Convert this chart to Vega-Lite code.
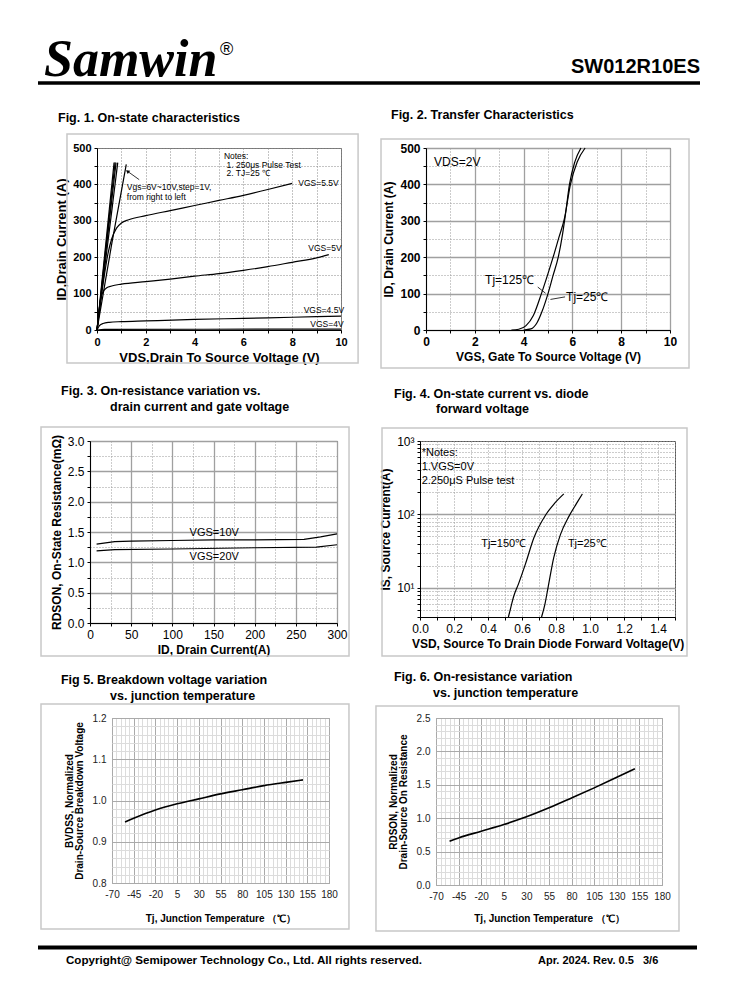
{
  "$schema": "https://vega.github.io/schema/vega-lite/v6.json",
  "padding": 0,
  "background": "white",
  "spacing": 0,
  "config": {
    "font": "Liberation Sans",
    "view": {"stroke": "#777"},
    "axis": {"labelFont": "Liberation Sans", "titleFont": "Liberation Sans", "labelColor": "#000", "titleColor": "#000", "labelFontSize": 11, "titleFontSize": 12, "titleFontWeight": "bold", "domainColor": "#000", "tickColor": "#000", "tickSize": 3, "labelFlush": false, "labelOverlap": false, "gridColor": "#999", "labelPadding": 3},
    "text": {"font": "Liberation Sans", "color": "#000"}
  },
  "vconcat": [
    {
      "width": 738, "height": 100, "view": {"stroke": null},
      "encoding": {
        "x": {"field": "x", "type": "quantitative", "scale": {"domain": [0, 738], "nice": false, "zero": false}, "axis": null},
        "y": {"field": "y", "type": "quantitative", "scale": {"domain": [0, 100], "nice": false, "reverse": true}, "axis": null}
      },
      "layer": [
        {"data": {"values": [{"x": 38, "x2": 700, "y": 83}]}, "mark": {"type": "rule", "strokeWidth": 3.5, "color": "#000"}, "encoding": {"x2": {"field": "x2"}}},
        {"data": {"values": [{"x": 44, "y": 76, "t": "Samwin"}]}, "mark": {"type": "text", "font": "Liberation Serif", "fontSize": 52, "fontWeight": "bold", "fontStyle": "italic", "align": "left", "baseline": "alphabetic"}, "encoding": {"text": {"field": "t"}}},
        {"data": {"values": [{"x": 220, "y": 55, "t": "®"}]}, "mark": {"type": "text", "fontSize": 18, "align": "left", "baseline": "alphabetic"}, "encoding": {"text": {"field": "t"}}},
        {"data": {"values": [{"x": 700, "y": 73, "t": "SW012R10ES"}]}, "mark": {"type": "text", "fontSize": 20, "fontWeight": "bold", "align": "right", "baseline": "alphabetic"}, "encoding": {"text": {"field": "t"}}}
      ]
    },
    {
      "spacing": 0,
      "hconcat": [
        {"width": 1, "height": 1, "data": {"values": []}, "mark": "point", "view": {"stroke": null}},
        {
          "width": 244, "height": 182,
          "encoding": {
            "x": {"field": "x", "type": "quantitative", "scale": {"domain": [0, 10], "nice": false}, "axis": {"values": [0,1,2,3,4,5,6,7,8,9,10], "labelExpr": "datum.value % 2 === 0 ? datum.label : ''", "title": "VDS,Drain To Source Voltage (V)", "titleFontSize": 13, "gridDash": [1, 2], "gridColor": "#888", "labelFontWeight": "bold", "labelFontSize": 11}},
            "y": {"field": "y", "type": "quantitative", "scale": {"domain": [0, 500], "nice": false}, "axis": {"values": [0,50,100,150,200,250,300,350,400,450,500], "labelExpr": "datum.value % 100 === 0 ? datum.label : ''", "title": "ID,Drain Current (A)", "titleFontSize": 13, "gridDash": [1, 2], "gridColor": "#888", "labelFontWeight": "bold", "labelFontSize": 11}}
          },
          "layer": [
            {"data": {"values": [{"x": -3.877, "x2": 11.09, "y": -122.5, "y2": 628.0}]}, "mark": {"type": "rect", "opacity": 0}, "encoding": {"x2": {"field": "x2"}, "y2": {"field": "y2"}}},
            {"data": {"values": [{"x": -1.23, "x2": 10.7, "y": -90.7, "y2": 538.5}]}, "mark": {"type": "rect", "fillOpacity": 0, "stroke": "#c8c8c8", "strokeWidth": 1.5}, "encoding": {"x2": {"field": "x2"}, "y2": {"field": "y2"}}},
            {
              "data": {"values": [
                {"g": "10V", "x": 0, "y": 0}, {"g": "10V", "x": 0.70, "y": 460},
                {"g": "9V", "x": 0, "y": 0}, {"g": "9V", "x": 0.74, "y": 460},
                {"g": "8V", "x": 0, "y": 0}, {"g": "8V", "x": 0.78, "y": 460},
                {"g": "7V", "x": 0, "y": 0}, {"g": "7V", "x": 0.85, "y": 460},
                {"g": "6V", "x": 0, "y": 0}, {"g": "6V", "x": 0.6, "y": 235}, {"g": "6V", "x": 1.2, "y": 455},
                {"g": "5.5V", "x": 0, "y": 0}, {"g": "5.5V", "x": 0.15, "y": 80}, {"g": "5.5V", "x": 0.3, "y": 150}, {"g": "5.5V", "x": 0.45, "y": 210}, {"g": "5.5V", "x": 0.6, "y": 250}, {"g": "5.5V", "x": 0.8, "y": 280}, {"g": "5.5V", "x": 1, "y": 294}, {"g": "5.5V", "x": 1.3, "y": 303}, {"g": "5.5V", "x": 2, "y": 314}, {"g": "5.5V", "x": 3, "y": 328}, {"g": "5.5V", "x": 4, "y": 342}, {"g": "5.5V", "x": 5, "y": 356}, {"g": "5.5V", "x": 6, "y": 370}, {"g": "5.5V", "x": 7, "y": 386}, {"g": "5.5V", "x": 8, "y": 403},
                {"g": "5V", "x": 0, "y": 0}, {"g": "5V", "x": 0.08, "y": 50}, {"g": "5V", "x": 0.15, "y": 85}, {"g": "5V", "x": 0.25, "y": 105}, {"g": "5V", "x": 0.4, "y": 116}, {"g": "5V", "x": 0.6, "y": 121}, {"g": "5V", "x": 1, "y": 126}, {"g": "5V", "x": 2, "y": 133}, {"g": "5V", "x": 3, "y": 140}, {"g": "5V", "x": 4, "y": 148}, {"g": "5V", "x": 5, "y": 155}, {"g": "5V", "x": 6, "y": 164}, {"g": "5V", "x": 7, "y": 174}, {"g": "5V", "x": 8, "y": 186}, {"g": "5V", "x": 9, "y": 198}, {"g": "5V", "x": 9.5, "y": 207},
                {"g": "4.5V", "x": 0, "y": 0}, {"g": "4.5V", "x": 0.1, "y": 12}, {"g": "4.5V", "x": 0.25, "y": 18}, {"g": "4.5V", "x": 0.5, "y": 21}, {"g": "4.5V", "x": 1, "y": 23}, {"g": "4.5V", "x": 2, "y": 25}, {"g": "4.5V", "x": 4, "y": 29}, {"g": "4.5V", "x": 6, "y": 32}, {"g": "4.5V", "x": 8, "y": 35}, {"g": "4.5V", "x": 10, "y": 38},
                {"g": "4V", "x": 0, "y": 0}, {"g": "4V", "x": 0.3, "y": 1.5}, {"g": "4V", "x": 10, "y": 2.5}
              ]},
              "mark": {"type": "line", "color": "#000", "strokeWidth": 1.2, "interpolate": "monotone"},
              "encoding": {"detail": {"field": "g"}}
            },
            {
              "data": {"values": [
                {"x": 5.2, "y": 478, "t": "Notes:"},
                {"x": 5.31, "y": 454, "t": "1. 250μs  Pulse Test"},
                {"x": 5.31, "y": 431, "t": "2. TJ=25 ℃"},
                {"x": 1.22, "y": 394, "t": "Vgs=6V~10V,step=1V,"},
                {"x": 1.22, "y": 365, "t": "from right to left"},
                {"x": 8.25, "y": 403, "t": "VGS=5.5V"},
                {"x": 8.66, "y": 225, "t": "VGS=5V"},
                {"x": 8.47, "y": 55, "t": "VGS=4.5V"},
                {"x": 8.74, "y": 16, "t": "VGS=4V"}
              ]},
              "mark": {"type": "text", "fontSize": 8.5, "align": "left", "baseline": "middle"},
              "encoding": {"text": {"field": "t"}}
            },
            {"data": {"values": [{"x": 1.73, "y": 413, "x2": 1.25, "y2": 436}]}, "mark": {"type": "rule", "color": "#000", "strokeWidth": 0.8}, "encoding": {"x2": {"field": "x2"}, "y2": {"field": "y2"}}},
            {"data": {"values": [{"x": 1.25, "y": 436}]}, "mark": {"type": "point", "shape": "triangle-up", "filled": true, "color": "#000", "size": 18, "angle": 306, "opacity": 1}},
            {"data": {"values": [{"x": -1.598, "y": 571.4, "t": "Fig. 1. On-state characteristics"}]}, "mark": {"type": "text", "fontSize": 12.5, "fontWeight": "bold", "align": "left", "baseline": "alphabetic"}, "encoding": {"text": {"field": "t"}}}
          ]
        },
        {
          "width": 244, "height": 182,
          "view": {"stroke": "#555"},
          "encoding": {
            "x": {"field": "x", "type": "quantitative", "scale": {"domain": [0, 10], "nice": false}, "axis": {"values": [0,1,2,3,4,5,6,7,8,9,10], "labelExpr": "datum.value % 2 === 0 ? datum.label : ''", "title": "VGS, Gate To Source Voltage (V)", "titleFontSize": 12, "gridDash": {"condition": {"test": "datum.value % 2 === 0", "value": []}, "value": [1, 2]}, "gridColor": {"condition": {"test": "datum.value % 2 === 0", "value": "#a0a0a0"}, "value": "#999"}, "gridWidth": {"condition": {"test": "datum.value % 2 === 0", "value": 1.3}, "value": 1}, "labelFontWeight": "bold", "labelFontSize": 12}},
            "y": {"field": "y", "type": "quantitative", "scale": {"domain": [0, 500], "nice": false}, "axis": {"values": [0,50,100,150,200,250,300,350,400,450,500], "labelExpr": "datum.value % 100 === 0 ? datum.label : ''", "title": "ID, Drain Current (A)", "titleFontSize": 12, "gridDash": {"condition": {"test": "datum.value % 100 === 0", "value": []}, "value": [1, 2]}, "gridColor": {"condition": {"test": "datum.value % 100 === 0", "value": "#a0a0a0"}, "value": "#999"}, "gridWidth": {"condition": {"test": "datum.value % 100 === 0", "value": 1.3}, "value": 1}, "labelFontWeight": "bold", "labelFontSize": 12}}
          },
          "layer": [
            {"data": {"values": [{"x": -2.279, "x2": 12.73, "y": -122.5, "y2": 628.0}]}, "mark": {"type": "rect", "opacity": 0}, "encoding": {"x2": {"field": "x2"}, "y2": {"field": "y2"}}},
            {"data": {"values": [{"x": -1.844, "x2": 10.779, "y": -104.4, "y2": 524.7}]}, "mark": {"type": "rect", "fillOpacity": 0, "stroke": "#c8c8c8", "strokeWidth": 1.5}, "encoding": {"x2": {"field": "x2"}, "y2": {"field": "y2"}}},
            {
              "data": {"values": [
                {"g": "125", "x": 3.5, "y": 0}, {"g": "125", "x": 3.8, "y": 2}, {"g": "125", "x": 4.1, "y": 12}, {"g": "125", "x": 4.4, "y": 40}, {"g": "125", "x": 4.73, "y": 100}, {"g": "125", "x": 5.0, "y": 155}, {"g": "125", "x": 5.21, "y": 200}, {"g": "125", "x": 5.45, "y": 255}, {"g": "125", "x": 5.67, "y": 305}, {"g": "125", "x": 5.92, "y": 400}, {"g": "125", "x": 6.2, "y": 462}, {"g": "125", "x": 6.52, "y": 500},
                {"g": "25", "x": 4.0, "y": 0}, {"g": "25", "x": 4.3, "y": 3}, {"g": "25", "x": 4.55, "y": 20}, {"g": "25", "x": 4.75, "y": 50}, {"g": "25", "x": 5.0, "y": 100}, {"g": "25", "x": 5.2, "y": 148}, {"g": "25", "x": 5.42, "y": 200}, {"g": "25", "x": 5.6, "y": 265}, {"g": "25", "x": 5.72, "y": 320}, {"g": "25", "x": 5.88, "y": 400}, {"g": "25", "x": 6.1, "y": 462}, {"g": "25", "x": 6.35, "y": 500}
              ]},
              "mark": {"type": "line", "color": "#000", "strokeWidth": 1.2, "interpolate": "monotone"},
              "encoding": {"detail": {"field": "g"}}
            },
            {"data": {"values": [{"x": 0.33, "y": 461, "t": "VDS=2V"}, {"x": 5.74, "y": 91, "t": "Tj=25℃"}]}, "mark": {"type": "text", "fontSize": 12, "align": "left", "baseline": "middle"}, "encoding": {"text": {"field": "t"}}},
            {"data": {"values": [{"x": 4.43, "y": 137, "t": "Tj=125℃"}]}, "mark": {"type": "text", "fontSize": 12, "align": "right", "baseline": "middle"}, "encoding": {"text": {"field": "t"}}},
            {"data": {"values": [{"x": 4.58, "y": 118, "x2": 4.9, "y2": 101}, {"x": 5.7, "y": 91, "x2": 5.1, "y2": 84}]}, "mark": {"type": "rule", "color": "#000", "strokeWidth": 0.8}, "encoding": {"x2": {"field": "x2"}, "y2": {"field": "y2"}}},
            {"data": {"values": [{"x": -1.434, "y": 579.7, "t": "Fig. 2. Transfer Characteristics"}]}, "mark": {"type": "text", "fontSize": 12.5, "fontWeight": "bold", "align": "left", "baseline": "alphabetic"}, "encoding": {"text": {"field": "t"}}}
          ]
        }
      ]
    },
    {
      "spacing": 0,
      "hconcat": [
        {"width": 1, "height": 1, "data": {"values": []}, "mark": "point", "view": {"stroke": null}},
        {
          "width": 247, "height": 182,
          "view": {"stroke": "#555"},
          "encoding": {
            "x": {"field": "x", "type": "quantitative", "scale": {"domain": [0, 300], "nice": false}, "axis": {"values": [0,25,50,75,100,125,150,175,200,225,250,275,300], "labelExpr": "datum.value % 50 === 0 ? datum.label : ''", "title": "ID, Drain Current(A)", "gridDash": {"condition": {"test": "datum.value % 50 === 0", "value": []}, "value": [1, 2]}, "gridColor": {"condition": {"test": "datum.value % 50 === 0", "value": "#a0a0a0"}, "value": "#999"}, "gridWidth": {"condition": {"test": "datum.value % 50 === 0", "value": 1.3}, "value": 1}, "labelFontSize": 12}},
            "y": {"field": "y", "type": "quantitative", "scale": {"domain": [0, 3], "nice": false}, "axis": {"values": [0,0.25,0.5,0.75,1,1.25,1.5,1.75,2,2.25,2.5,2.75,3], "format": ".1f", "labelExpr": "round(datum.value*4) % 2 === 0 ? datum.label : ''", "title": "RDSON, On-State Resistance(mΩ)", "gridDash": {"condition": {"test": "round(datum.value*4) % 2 === 0", "value": []}, "value": [1, 2]}, "gridColor": {"condition": {"test": "round(datum.value*4) % 2 === 0", "value": "#a0a0a0"}, "value": "#999"}, "gridWidth": {"condition": {"test": "round(datum.value*4) % 2 === 0", "value": 1.3}, "value": 1}, "labelFontSize": 12}}
          },
          "layer": [
            {"data": {"values": [{"x": -106.4, "x2": 337.17, "y": -0.6363, "y2": 4.0483}]}, "mark": {"type": "rect", "opacity": 0}, "encoding": {"x2": {"field": "x2"}, "y2": {"field": "y2"}}},
            {"data": {"values": [{"x": -59.5, "x2": 314.6, "y": -0.544, "y2": 3.231}]}, "mark": {"type": "rect", "fillOpacity": 0, "stroke": "#c8c8c8", "strokeWidth": 1.5}, "encoding": {"x2": {"field": "x2"}, "y2": {"field": "y2"}}},
            {
              "data": {"values": [
                {"g": "10V", "x": 8, "y": 1.30}, {"g": "10V", "x": 30, "y": 1.34}, {"g": "10V", "x": 50, "y": 1.35}, {"g": "10V", "x": 100, "y": 1.36}, {"g": "10V", "x": 150, "y": 1.37}, {"g": "10V", "x": 200, "y": 1.37}, {"g": "10V", "x": 260, "y": 1.38}, {"g": "10V", "x": 280, "y": 1.42}, {"g": "10V", "x": 300, "y": 1.47},
                {"g": "20V", "x": 8, "y": 1.19}, {"g": "20V", "x": 30, "y": 1.21}, {"g": "20V", "x": 100, "y": 1.22}, {"g": "20V", "x": 200, "y": 1.24}, {"g": "20V", "x": 275, "y": 1.25}, {"g": "20V", "x": 300, "y": 1.29}
              ]},
              "mark": {"type": "line", "color": "#000", "strokeWidth": 1.2},
              "encoding": {"detail": {"field": "g"}}
            },
            {"data": {"values": [{"x": 121, "y": 1.49, "t": "VGS=10V"}, {"x": 121, "y": 1.08, "t": "VGS=20V"}]}, "mark": {"type": "text", "fontSize": 11, "align": "left", "baseline": "middle"}, "encoding": {"text": {"field": "t"}}},
            {"data": {"values": [{"x": -35.2, "y": 3.758, "t": "Fig. 3. On-resistance variation vs."}, {"x": 24.3, "y": 3.495, "t": "drain current and gate voltage"}]}, "mark": {"type": "text", "fontSize": 12.5, "fontWeight": "bold", "align": "left", "baseline": "alphabetic"}, "encoding": {"text": {"field": "t"}}}
          ]
        },
        {
          "width": 255, "height": 176,
          "view": {"stroke": "#555"},
          "encoding": {
            "x": {"field": "x", "type": "quantitative", "scale": {"domain": [0, 1.5], "nice": false}, "axis": {"values": [0,0.1,0.2,0.3,0.4,0.5,0.6,0.7,0.8,0.9,1,1.1,1.2,1.3,1.4,1.5], "format": ".1f", "labelExpr": "round(datum.value*10) % 2 === 0 ? datum.label : ''", "title": "VSD, Source To Drain Diode Forward Voltage(V)", "gridDash": [1, 2], "gridColor": "#999", "labelFontSize": 12}},
            "y": {"field": "y", "type": "quantitative", "scale": {"type": "log", "domain": [4, 1000], "nice": false}, "axis": {"values": [4,5,6,7,8,9,10,20,30,40,50,60,70,80,90,100,200,300,400,500,600,700,800,900,1000], "labelExpr": "datum.value == 10 ? '10¹' : datum.value == 100 ? '10²' : datum.value == 1000 ? '10³' : ''", "title": "IS, Source Current(A)", "gridDash": {"condition": {"test": "datum.value == 10 || datum.value == 100", "value": []}, "value": [1, 2]}, "gridColor": {"condition": {"test": "datum.value == 10 || datum.value == 100", "value": "#a0a0a0"}, "value": "#999"}, "gridWidth": {"condition": {"test": "datum.value == 10 || datum.value == 100", "value": 1.3}, "value": 1}, "labelFontSize": 12}}
          },
          "layer": [
            {"data": {"values": [{"x": -0.2918, "x2": 1.8624, "y": 0.9872, "y2": 7355}]}, "mark": {"type": "rect", "opacity": 0}, "encoding": {"x2": {"field": "x2"}, "y2": {"field": "y2"}}},
            {"data": {"values": [{"x": -0.2235, "x2": 1.5706, "y": 1.177, "y2": 1503}]}, "mark": {"type": "rect", "fillOpacity": 0, "stroke": "#c8c8c8", "strokeWidth": 1.5}, "encoding": {"x2": {"field": "x2"}, "y2": {"field": "y2"}}},
            {
              "data": {"values": [
                {"g": "150", "x": 0.52, "y": 4}, {"g": "150", "x": 0.535, "y": 5.5}, {"g": "150", "x": 0.55, "y": 7.5}, {"g": "150", "x": 0.58, "y": 11.4}, {"g": "150", "x": 0.62, "y": 21}, {"g": "150", "x": 0.67, "y": 48}, {"g": "150", "x": 0.74, "y": 99}, {"g": "150", "x": 0.79, "y": 140}, {"g": "150", "x": 0.846, "y": 190},
                {"g": "25", "x": 0.715, "y": 4}, {"g": "25", "x": 0.735, "y": 6}, {"g": "25", "x": 0.753, "y": 10}, {"g": "25", "x": 0.787, "y": 26}, {"g": "25", "x": 0.826, "y": 53}, {"g": "25", "x": 0.876, "y": 94}, {"g": "25", "x": 0.92, "y": 140}, {"g": "25", "x": 0.955, "y": 190}
              ]},
              "mark": {"type": "line", "color": "#000", "strokeWidth": 1.2, "interpolate": "monotone"},
              "encoding": {"detail": {"field": "g"}}
            },
            {"data": {"values": [{"x": 0.01, "y": 697, "t": "*Notes:"}, {"x": 0.01, "y": 439, "t": "1.VGS=0V"}, {"x": 0.01, "y": 282, "t": "2.250μS Pulse test"}, {"x": 0.36, "y": 39, "t": "Tj=150℃"}, {"x": 0.87, "y": 39, "t": "Tj=25℃"}]}, "mark": {"type": "text", "fontSize": 11, "align": "left", "baseline": "middle"}, "encoding": {"text": {"field": "t"}}},
            {"data": {"values": [{"x": -0.153, "y": 3855, "t": "Fig. 4. On-state current vs. diode"}, {"x": 0.094, "y": 2407, "t": "forward voltage"}]}, "mark": {"type": "text", "fontSize": 12.5, "fontWeight": "bold", "align": "left", "baseline": "alphabetic"}, "encoding": {"text": {"field": "t"}}}
          ]
        }
      ]
    },
    {
      "spacing": 0,
      "hconcat": [
        {"width": 1, "height": 1, "data": {"values": []}, "mark": "point", "view": {"stroke": null}},
        {
          "width": 217, "height": 165,
          "view": {"stroke": "#999"},
          "encoding": {
            "x": {"field": "x", "type": "quantitative", "scale": {"domain": [-70, 180], "nice": false}, "axis": {"values": [-70,-65,-60,-55,-50,-45,-40,-35,-30,-25,-20,-15,-10,-5,0,5,10,15,20,25,30,35,40,45,50,55,60,65,70,75,80,85,90,95,100,105,110,115,120,125,130,135,140,145,150,155,160,165,170,175,180], "labelExpr": "(datum.value + 70) % 25 === 0 ? '' + datum.value : ''", "title": "Tj, Junction Temperature （℃）", "titleFontSize": 10, "titlePadding": 14, "domain": false, "ticks": false, "labelPadding": 6, "labelFontSize": 10, "labelColor": "#222", "gridColor": {"condition": {"test": "(datum.value + 70) % 25 === 0", "value": "#aaa"}, "value": "#dcdcdc"}}},
            "y": {"field": "y", "type": "quantitative", "scale": {"domain": [0.8, 1.2], "nice": false, "zero": false}, "axis": {"values": [0.8,0.82,0.84,0.86,0.88,0.9,0.92,0.94,0.96,0.98,1,1.02,1.04,1.06,1.08,1.1,1.12,1.14,1.16,1.18,1.2], "format": ".1f", "labelExpr": "round(datum.value*50) % 5 === 0 ? datum.label : ''", "title": ["BVDSS, Normalized", "Drain-Source Breakdown Voltage"], "titleFontSize": 10, "titleLineHeight": 10, "titlePadding": 8, "domain": false, "ticks": false, "labelPadding": 6, "labelFontSize": 10, "labelColor": "#222", "gridColor": {"condition": {"test": "round(datum.value*50) % 5 === 0", "value": "#aaa"}, "value": "#dcdcdc"}}}
          },
          "layer": [
            {"data": {"values": [{"x": -196.27, "x2": 224.47, "y": 0.67491, "y2": 1.32994}]}, "mark": {"type": "rect", "opacity": 0}, "encoding": {"x2": {"field": "x2"}, "y2": {"field": "y2"}}},
            {"data": {"values": [{"x": -151.8, "x2": 203, "y": 0.6885, "y2": 1.2339}]}, "mark": {"type": "rect", "fillOpacity": 0, "stroke": "#c8c8c8", "strokeWidth": 1.5}, "encoding": {"x2": {"field": "x2"}, "y2": {"field": "y2"}}},
            {
              "data": {"values": [
                {"x": -55, "y": 0.948}, {"x": -45, "y": 0.957}, {"x": -20, "y": 0.977}, {"x": 5, "y": 0.992}, {"x": 30, "y": 1.004}, {"x": 55, "y": 1.016}, {"x": 80, "y": 1.026}, {"x": 105, "y": 1.036}, {"x": 130, "y": 1.044}, {"x": 150, "y": 1.05}
              ]},
              "mark": {"type": "line", "color": "#000", "strokeWidth": 1.6, "interpolate": "monotone"}
            },
            {"data": {"values": [{"x": -128.8, "y": 1.2824, "t": "Fig 5. Breakdown voltage variation"}, {"x": -72.3, "y": 1.2436, "t": "vs. junction temperature"}]}, "mark": {"type": "text", "fontSize": 12.5, "fontWeight": "bold", "align": "left", "baseline": "alphabetic"}, "encoding": {"text": {"field": "t"}}}
          ]
        },
        {
          "width": 226, "height": 167,
          "view": {"stroke": "#999"},
          "encoding": {
            "x": {"field": "x", "type": "quantitative", "scale": {"domain": [-70, 180], "nice": false}, "axis": {"values": [-70,-65,-60,-55,-50,-45,-40,-35,-30,-25,-20,-15,-10,-5,0,5,10,15,20,25,30,35,40,45,50,55,60,65,70,75,80,85,90,95,100,105,110,115,120,125,130,135,140,145,150,155,160,165,170,175,180], "labelExpr": "(datum.value + 70) % 25 === 0 ? '' + datum.value : ''", "title": "Tj, Junction Temperature （℃）", "titleFontSize": 10, "titlePadding": 12, "domain": false, "ticks": false, "labelPadding": 6, "labelFontSize": 10, "labelColor": "#222", "gridColor": {"condition": {"test": "(datum.value + 70) % 25 === 0", "value": "#aaa"}, "value": "#dcdcdc"}}},
            "y": {"field": "y", "type": "quantitative", "scale": {"domain": [0, 2.5], "nice": false}, "axis": {"values": [0,0.1,0.2,0.3,0.4,0.5,0.6,0.7,0.8,0.9,1,1.1,1.2,1.3,1.4,1.5,1.6,1.7,1.8,1.9,2,2.1,2.2,2.3,2.4,2.5], "format": ".1f", "labelExpr": "round(datum.value*10) % 5 === 0 ? datum.label : ''", "title": ["RDSON, Normalized", "Drain-Source On Resistance"], "titleFontSize": 10, "titleLineHeight": 10, "titlePadding": 8, "domain": false, "ticks": false, "labelPadding": 6, "labelFontSize": 10, "labelColor": "#222", "gridColor": {"condition": {"test": "round(datum.value*10) % 5 === 0", "value": "#aaa"}, "value": "#dcdcdc"}}}
          },
          "layer": [
            {"data": {"values": [{"x": -142.57, "x2": 262.52, "y": -0.7425, "y2": 3.3024}]}, "mark": {"type": "rect", "opacity": 0}, "encoding": {"x2": {"field": "x2"}, "y2": {"field": "y2"}}},
            {"data": {"values": [{"x": -136.4, "x2": 198.8, "y": -0.689, "y2": 2.68}]}, "mark": {"type": "rect", "fillOpacity": 0, "stroke": "#c8c8c8", "strokeWidth": 1.5}, "encoding": {"x2": {"field": "x2"}, "y2": {"field": "y2"}}},
            {
              "data": {"values": [
                {"x": -55, "y": 0.655}, {"x": -45, "y": 0.705}, {"x": -20, "y": 0.805}, {"x": 5, "y": 0.905}, {"x": 30, "y": 1.02}, {"x": 55, "y": 1.155}, {"x": 80, "y": 1.303}, {"x": 105, "y": 1.454}, {"x": 130, "y": 1.612}, {"x": 150, "y": 1.74}
              ]},
              "mark": {"type": "line", "color": "#000", "strokeWidth": 1.6, "interpolate": "monotone"}
            },
            {"data": {"values": [{"x": -116.5, "y": 3.054, "t": "Fig. 6. On-resistance variation"}, {"x": -73.3, "y": 2.814, "t": "vs. junction temperature"}]}, "mark": {"type": "text", "fontSize": 12.5, "fontWeight": "bold", "align": "left", "baseline": "alphabetic"}, "encoding": {"text": {"field": "t"}}}
          ]
        }
      ]
    },
    {
      "width": 738, "height": 64, "view": {"stroke": null},
      "encoding": {
        "x": {"field": "x", "type": "quantitative", "scale": {"domain": [0, 738], "nice": false, "zero": false}, "axis": null},
        "y": {"field": "y", "type": "quantitative", "scale": {"domain": [0, 64], "nice": false, "reverse": true}, "axis": null}
      },
      "layer": [
        {"data": {"values": [{"x": 38, "x2": 697, "y": 11.5}]}, "mark": {"type": "rule", "strokeWidth": 4, "color": "#000"}, "encoding": {"x2": {"field": "x2"}}},
        {"data": {"values": [{"x": 66, "y": 27.5, "t": "Copyright@ Semipower Technology Co., Ltd. All rights reserved."}]}, "mark": {"type": "text", "fontSize": 11.6, "fontWeight": "bold", "align": "left", "baseline": "alphabetic"}, "encoding": {"text": {"field": "t"}}},
        {"data": {"values": [{"x": 538, "y": 27.5, "t": "Apr. 2024. Rev. 0.5"}, {"x": 643, "y": 27.5, "t": "3/6"}]}, "mark": {"type": "text", "fontSize": 11, "fontWeight": "bold", "align": "left", "baseline": "alphabetic"}, "encoding": {"text": {"field": "t"}}}
      ]
    }
  ]
}
